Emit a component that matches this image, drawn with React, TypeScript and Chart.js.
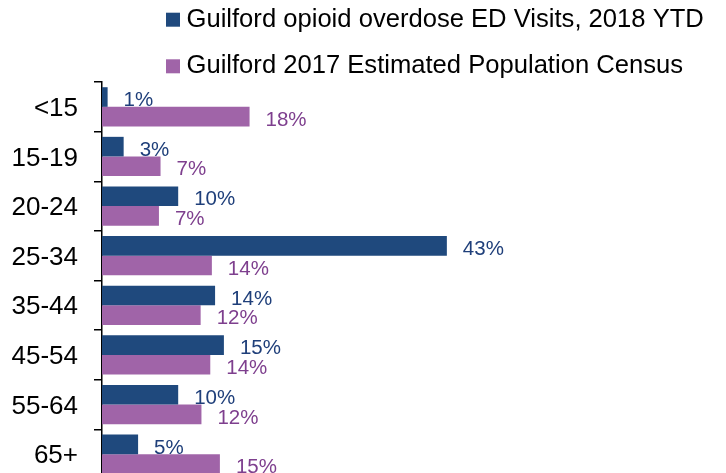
import { useEffect, useRef } from "react";
import { Chart, registerables } from "chart.js";

Chart.register(...registerables);

const categories = ["<15", "15-19", "20-24", "25-34", "35-44", "45-54", "55-64", "65+"];
const edVisits = [0.7, 2.7, 9.5, 43, 14.1, 15.2, 9.5, 4.5];
const population = [18.4, 7.3, 7.1, 13.7, 12.3, 13.5, 12.4, 14.7];
const seriesNames = [
  "Guilford opioid overdose ED Visits, 2018 YTD",
  "Guilford 2017 Estimated Population Census",
];
const barColors = ["#1F497D", "#A064A8"];
const labelColors = ["#1F3F7A", "#7E3F8E"];

const FONT = '"Liberation Sans", Arial, sans-serif';

const legendPlugin = {
  id: "customLegend",
  afterDraw(chart: any) {
    const ctx = chart.ctx;
    ctx.save();
    chart.data.datasets.forEach((ds: any, i: number) => {
      const cy = 19.7 + i * 46.6;
      ctx.fillStyle = ds.backgroundColor;
      ctx.fillRect(166, cy - 7, 14, 14);
      ctx.fillStyle = "#000";
      ctx.font = `25.6px ${FONT}`;
      ctx.textBaseline = "middle";
      ctx.textAlign = "left";
      ctx.fillText(ds.label, 186.5, cy);
    });
    ctx.restore();
  },
};

const valueLabelPlugin = {
  id: "valueLabels",
  afterDatasetsDraw(chart: any) {
    const ctx = chart.ctx;
    ctx.save();
    ctx.font = `20.5px ${FONT}`;
    ctx.textBaseline = "middle";
    ctx.textAlign = "left";
    chart.data.datasets.forEach((ds: any, i: number) => {
      const meta = chart.getDatasetMeta(i);
      ctx.fillStyle = labelColors[i];
      meta.data.forEach((bar: any, j: number) => {
        const v = ds.data[j];
        ctx.fillText(`${Math.round(v)}%`, bar.x + 16, bar.y + 3.5);
      });
    });
    ctx.restore();
  },
};

export default function App() {
  const canvasRef = useRef<HTMLCanvasElement | null>(null);

  useEffect(() => {
    if (!canvasRef.current) return;
    const chart = new Chart(canvasRef.current, {
      type: "bar",
      data: {
        labels: categories,
        datasets: [
          {
            label: seriesNames[0],
            data: edVisits,
            backgroundColor: barColors[0],
            borderWidth: 0,
            barPercentage: 1,
            categoryPercentage: 0.79,
          },
          {
            label: seriesNames[1],
            data: population,
            backgroundColor: barColors[1],
            borderWidth: 0,
            barPercentage: 1,
            categoryPercentage: 0.79,
          },
        ],
      },
      options: {
        indexAxis: "y",
        responsive: false,
        animation: false,
        layout: { padding: { top: 82, right: 223, bottom: 0, left: 0 } },
        plugins: {
          legend: { display: false },
          tooltip: { enabled: false },
        },
        scales: {
          x: { display: false, min: 0, max: 50 },
          y: {
            type: "category",
            offset: true,
            grid: {
              display: true,
              drawOnChartArea: false,
              drawTicks: true,
              tickLength: 8,
              color: "#000",
              lineWidth: 1.5,
              offset: true,
            },
            border: { display: true, color: "#000", width: 1.5 },
            ticks: {
              color: "#000",
              font: { size: 26, family: FONT },
              padding: 16,
              labelOffset: 2,
              autoSkip: false,
            },
            afterFit(scale: any) {
              scale.width = 102;
              scale.paddingTop = 0;
              scale.paddingBottom = 0;
            },
          },
        },
      } as any,
      plugins: [legendPlugin, valueLabelPlugin],
    });
    return () => chart.destroy();
  }, []);

  return (
    <div
      style={{
        position: "fixed",
        left: 0,
        top: 0,
        width: 726,
        height: 479,
        background: "#fff",
      }}
    >
      <canvas ref={canvasRef} width={726} height={479} style={{ display: "block" }} />
    </div>
  );
}
